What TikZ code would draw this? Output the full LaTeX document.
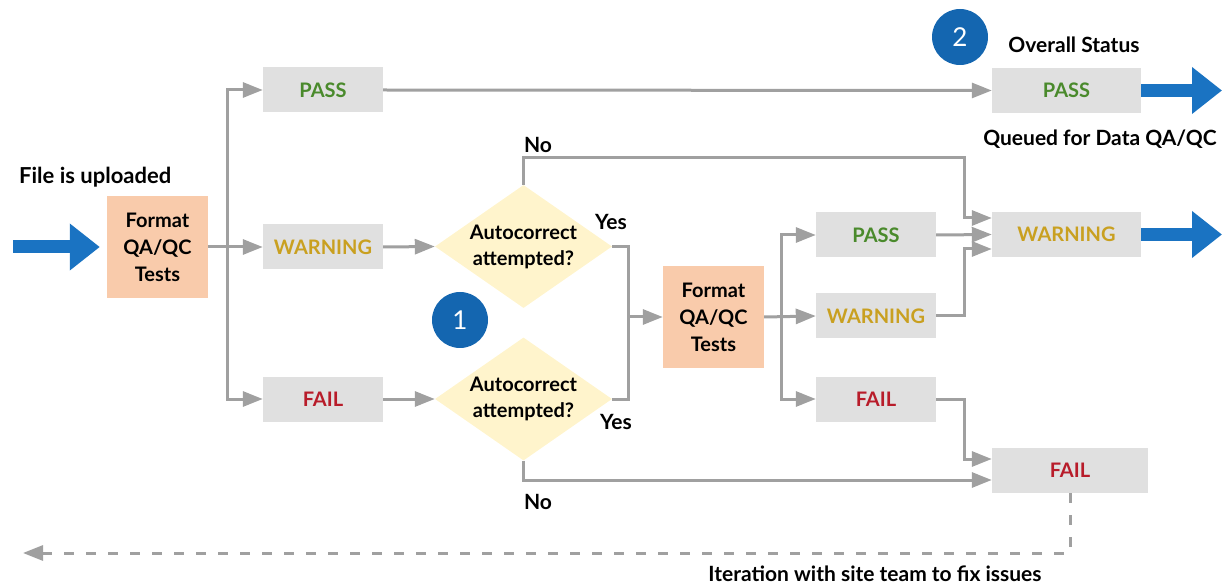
\documentclass[tikz,border=0pt]{standalone}
\usepackage{fontspec}
\setmainfont{Lato}
\usetikzlibrary{arrows.meta,shapes.geometric}
\definecolor{boxgray}{HTML}{E0E0E0}
\definecolor{linegray}{HTML}{A0A0A0}
\definecolor{peach}{HTML}{F9CBAB}
\definecolor{lightyel}{HTML}{FFF4CC}
\definecolor{bluearr}{HTML}{1A73C2}
\definecolor{bluecirc}{HTML}{1466B0}
\definecolor{passgreen}{HTML}{4A8A2C}
\definecolor{warngold}{HTML}{C9A020}
\definecolor{failred}{HTML}{B81C2A}
\tikzset{
  lbl/.style={font=\fontsize{20}{26}\selectfont\bfseries, text=black, inner sep=0pt, align=center},
  txt/.style={font=\fontsize{21}{24}\selectfont\bfseries, text=black, inner sep=0pt},
  graybox/.style={fill=boxgray, draw=none, inner sep=0pt, minimum width=120pt, minimum height=45pt, font=\fontsize{20}{22}\selectfont\bfseries},
  bigbox/.style={graybox, minimum width=149pt},
  fmtbox/.style={fill=peach, draw=none, inner sep=0pt, minimum width=101pt, minimum height=102pt, font=\fontsize{20}{27}\selectfont\bfseries, align=center},
  decision/.style={diamond, fill=lightyel, draw=none, inner sep=0pt, minimum width=177pt, minimum height=123pt},
  numcirc/.style={circle, fill=bluecirc, draw=none, inner sep=0pt, minimum size=56pt, text=white, font=\fontsize{26}{26}\selectfont},
  conn/.style={draw=linegray, line width=3pt},
  arr/.style={conn, -{Triangle[length=20pt,width=15pt]}},
  bigarrow/.style={draw=bluearr, line width=13pt, -{Triangle[length=30pt,width=45pt]}},
  dasharr/.style={draw=linegray, line width=3pt, dash pattern=on 10pt off 12pt, -{Triangle[length=20pt,width=15pt]}}
}
\begin{document}
\begin{tikzpicture}[x=1pt,y=-1pt]
\useasboundingbox (0,0) rectangle (1232,585);
% nodes
\node[fmtbox] (fmt1) at (157.5,247) {Format\\QA/QC\\Tests};
\node[txt, font=\fontsize{22}{24}\selectfont\bfseries, anchor=west] (upl) at (19,177) {File is uploaded};
\node[graybox, text=passgreen] (pass1) at (323,90) {PASS};
\node[graybox, text=warngold] (warn1) at (323,247) {WARNING};
\node[graybox, text=failred] (fail1) at (323,399) {FAIL};
\node[decision] (d1) at (523.5,246.5) {};
\node[lbl] (d1t) at (d1) {Autocorrect\\attempted?};
\node[decision] (d2) at (523.5,399) {};
\node[lbl] (d2t) at (d2) {Autocorrect\\attempted?};
\node[numcirc] (c1) at (460,320) {1};
\node[numcirc] (c2) at (960,37) {2};
\node[txt] (no1) at (538,145) {No};
\node[txt] (no2) at (538,502) {No};
\node[txt] (yes1) at (611,222) {Yes};
\node[txt] (yes2) at (616,422) {Yes};
\node[fmtbox] (fmt2) at (713.5,317) {Format\\QA/QC\\Tests};
\node[graybox, text=passgreen] (pass2) at (876,235) {PASS};
\node[graybox, text=warngold] (warn2) at (876,316) {WARNING};
\node[graybox, text=failred] (fail2) at (876,399) {FAIL};
\node[bigbox, text=passgreen] (pov) at (1066.5,90.5) {PASS};
\node[bigbox, text=warngold] (wov) at (1066.5,234.5) {WARNING};
\node[bigbox, text=failred, minimum width=156pt] (fov) at (1070,470.5) {FAIL};
\node[txt] (ovs) at (1074,45) {Overall Status};
\node[txt] (queued) at (1100,139) {Queued for Data QA/QC};
\node[txt] (iter) at (875,574) {Iteration with site team to fix issues};
% coordinates
\coordinate (in) at (13,247);
\coordinate (b1) at (227,247);
\coordinate (ymerge) at (628,317);
\coordinate (b2) at (781,317);
\coordinate (ntop) at (964,158);
\coordinate (outp) at (1222,90.5);
\coordinate (outw) at (1222,234.5);
\coordinate (dashc) at (1070,553);
\coordinate (dashend) at (23,553);
% blue arrows
\draw[bigarrow] (in) -- ([xshift=-7pt]fmt1.west);
\draw[bigarrow] (pov.east) -- (outp);
\draw[bigarrow] (wov.east) -- (outw);
% connectors stage 1
\draw[arr] (fmt1.east) -- (warn1.west);
\draw[arr] (b1) |- (pass1.west);
\draw[arr] (b1) |- (fail1.west);
\draw[arr] (pass1.east) -- (pov.west);
\draw[arr] (warn1.east) -- (d1.west);
\draw[arr] (fail1.east) -- (d2.west);
% yes
\draw[conn] (d1.east) -| (ymerge);
\draw[conn] (d2.east) -| (ymerge);
\draw[arr] (ymerge) -- (fmt2.west);
% no
\draw[arr] (d1.north) |- (ntop) |- ([yshift=16.5pt]wov.west);
\draw[arr] (d2.south) |- ([yshift=-9.5pt]fov.west);
% stage 2
\draw[arr] (fmt2.east) -- (warn2.west);
\draw[arr] (b2) |- (pass2.west);
\draw[arr] (b2) |- (fail2.west);
\draw[arr] (pass2.east) -- (wov.west);
\draw[arr] (warn2.east) -- ++(28,0) |- ([yshift=-14.5pt]wov.west);
\draw[arr] (fail2.east) -- ++(28,0) |- ([yshift=11.5pt]fov.west);
% iteration
\draw[dasharr] (fov.south) -- (dashc) -- (dashend);
\end{tikzpicture}
\end{document}
